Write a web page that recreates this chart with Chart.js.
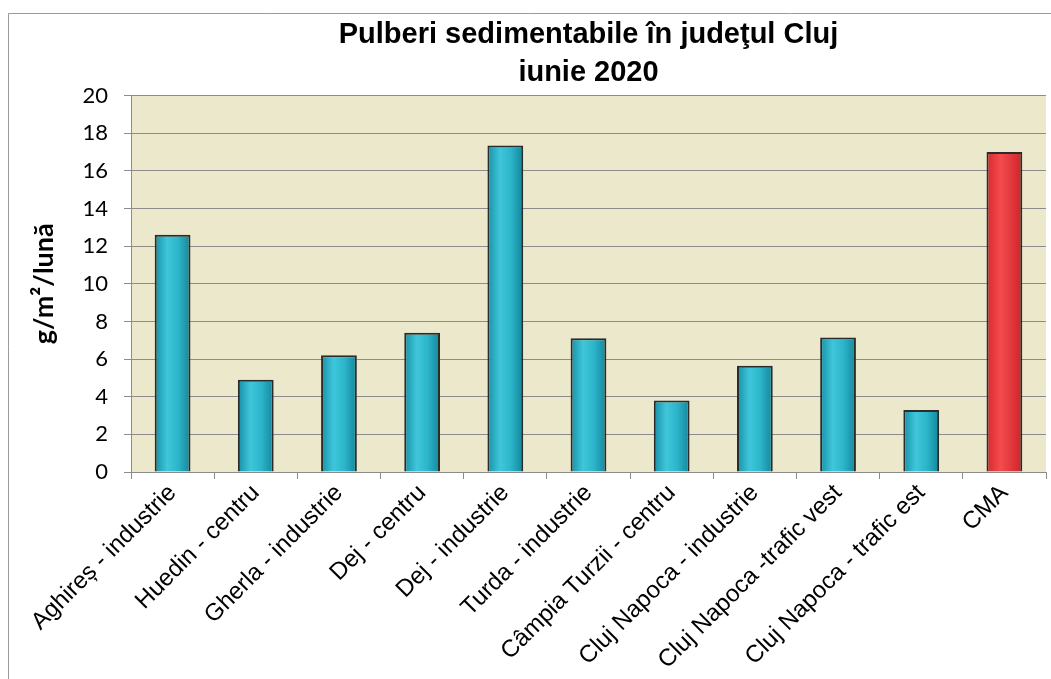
<!DOCTYPE html>
<html>
<head>
<meta charset="utf-8">
<script src="https://cdn.jsdelivr.net/npm/chart.js@4"></script>
<style>
  html, body { margin: 0; padding: 0; background: #fff; }
  #wrap { width: 1051px; height: 679px; }
</style>
</head>
<body>
<div id="wrap"><canvas id="chart"></canvas></div>
<script>
// data
let stations = ['Aghireș - industrie', 'Huedin - centru', 'Gherla - industrie', 'Dej - centru',
  'Dej - industrie', 'Turda - industrie', 'Câmpia Turzii - centru', 'Cluj Napoca - industrie',
  'Cluj Napoca -trafic vest', 'Cluj Napoca - trafic est', 'CMA']
let values = [12.6, 4.9, 6.2, 7.4, 17.35, 7.1, 3.8, 5.65, 7.15, 3.3, 17]
let titleLines = ['Pulberi sedimentabile în judeţul Cluj', 'iunie 2020']
let yTitle = 'g/m²/lună'

let barPct = 0.43

/* ---- background, frame and plot area colour ---- */
let backdrop = {
  id: 'backdrop',
  beforeDraw(chart) {
    let ctx = chart.ctx
    let a = chart.chartArea
    ctx.save()
    ctx.fillStyle = '#fff'
    ctx.fillRect(0, 0, chart.width, chart.height)
    ctx.strokeStyle = '#9a9a9a'
    ctx.lineWidth = 1
    ctx.beginPath()
    ctx.moveTo(8.5, chart.height)
    ctx.lineTo(8.5, 13.5)
    ctx.lineTo(chart.width, 13.5)
    ctx.stroke()
    ctx.fillStyle = '#ebe8cb'
    ctx.fillRect(a.left, a.top, a.right - a.left, a.bottom - a.top)
    ctx.restore()
  }
}

// horizontal shading on each bar, built from the x scale
function barFill(c) {
  let chart = c.chart
  let x = chart.scales.x
  let red = stations[c.dataIndex] == 'CMA'
  if (!x || !x.width) return red ? '#ee4446' : '#2ab4c9'
  let cx = x.getPixelForValue(c.dataIndex)
  let half = x.width / stations.length * barPct / 2
  let g = chart.ctx.createLinearGradient(cx - half, 0, cx + half, 0)
  if (red) {
    g.addColorStop(0, '#d9282e')
    g.addColorStop(0.4, '#f34b4e')
    g.addColorStop(1, '#cf2429')
  } else {
    g.addColorStop(0, '#1690a6')
    g.addColorStop(0.35, '#3fc6da')
    g.addColorStop(0.65, '#2cb5cb')
    g.addColorStop(1, '#148699')
  }
  return g
}

let chart = new Chart(document.getElementById('chart'), {
  type: 'bar',
  data: {
    labels: stations,
    datasets: [{
      data: values,
      backgroundColor: barFill,
      borderColor: '#2b2b2b',
      borderWidth: 2,
      borderSkipped: 'bottom',
      categoryPercentage: 1,
      barPercentage: barPct
    }]
  },
  plugins: [backdrop],
  options: {
    responsive: true,
    maintainAspectRatio: false,
    animation: false,
    layout: { padding: { left: 8, right: 5, top: 0, bottom: 0 } },
    plugins: {
      legend: { display: false },
      tooltip: { enabled: false },
      title: {
        display: true,
        text: titleLines,
        fullSize: false,
        color: '#000',
        font: { family: 'Liberation Sans, Arial, sans-serif', size: 29, weight: 'bold', lineHeight: 1.32 },
        padding: { top: 16, bottom: 3 }
      }
    },
    scales: {
      x: {
        afterFit(s) { s.height = 207 },
        grid: { offset: true, drawOnChartArea: false, drawTicks: true, tickLength: 7, color: '#8c8c8c' },
        border: { display: true, color: '#8c8c8c' },
        ticks: {
          autoSkip: false,
          minRotation: 45,
          maxRotation: 45,
          padding: 0,
          color: '#000',
          font: { family: 'Liberation Sans, Arial, sans-serif', size: 24 }
        }
      },
      y: {
        min: 0,
        max: 20,
        afterFit(s) { s.width = 123 },
        grid: { color: '#8c8c8c', lineWidth: 1, tickLength: 7 },
        border: { color: '#8c8c8c' },
        ticks: {
          stepSize: 2,
          padding: 16,
          color: '#000',
          font: { family: 'Lato, sans-serif', size: 22 }
        },
        title: {
          display: true,
          text: yTitle,
          color: '#000',
          font: { family: 'Lato, sans-serif', size: 27, weight: 'bold' },
          padding: { top: 20, bottom: 0 }
        }
      }
    }
  }
})
</script>
</body>
</html>
